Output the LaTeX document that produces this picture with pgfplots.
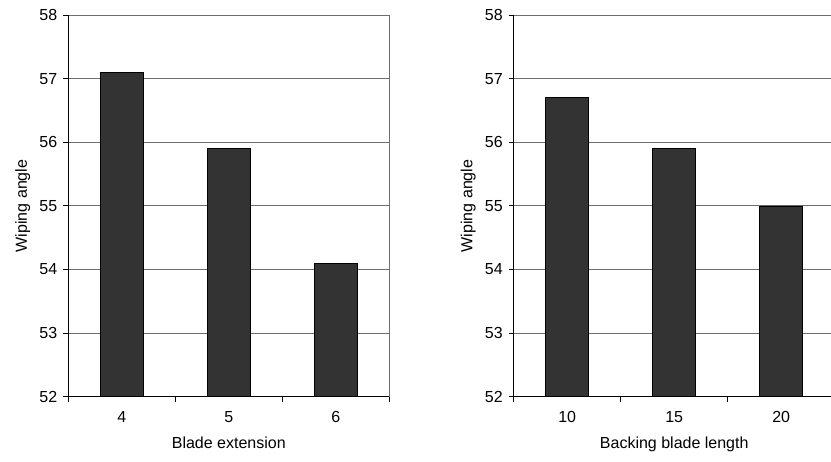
\documentclass[border=0pt]{standalone}
\usepackage{fontspec}
\setmainfont{Liberation Sans}
\usepackage{pgfplots}
\pgfplotsset{compat=1.18}
\definecolor{barfill}{HTML}{333333}
\definecolor{gridc}{HTML}{6E6E6E}
\pgfplotsset{
  wipe/.style={
    scale only axis,
    width=240.75pt, height=286.3pt,
    anchor=south west,
    ymin=52, ymax=58, ytick={52,53,54,55,56,57,58},
    xmin=-0.5, xmax=2.5,
    xtick={0,1,2},
    minor xtick={-0.5,0.5,1.5,2.5},
    major x tick style={draw=none},
    minor tick length=3.75pt,
    major tick length=3.75pt,
    tick align=outside,
    axis x line*=bottom, axis y line*=left,
    axis line style={black, line width=0.75pt},
    every tick/.style={black, line width=0.75pt},
    ymajorgrids,
    major grid style={gridc, line width=0.75pt},
    extra x ticks={2.5},
    extra x tick labels={},
    extra x tick style={grid=major, major tick length=0pt, xmajorgrids=true},
    ybar, bar width=32.25pt,
    font=\fontsize{12}{14}\selectfont,
    /pgf/number format/assume math mode=true,
    ylabel={Wiping angle},
    xticklabel style={yshift=-4pt},
    yticklabel style={xshift=-1pt},
  }
}
\begin{document}
\begin{tikzpicture}
\useasboundingbox (0,0) rectangle (623.25pt,345.75pt);
\clip (0,0) rectangle (623.25pt,345.75pt);
\begin{axis}[wipe, at={(51.2pt,48.2pt)},
  xticklabels={4,5,6}, xlabel={Blade extension}]
\addplot[fill=barfill, draw=black, line width=0.5pt] coordinates {(0,57.1) (1,55.9) (2,54.1)};
\end{axis}
\begin{axis}[wipe, at={(385.3pt,48.2pt)},
  xticklabels={10,15,20}, xlabel={Backing blade length}]
\addplot[fill=barfill, draw=black, line width=0.5pt] coordinates {(0,56.7) (1,55.9) (2,55.0)};
\end{axis}
\end{tikzpicture}
\end{document}
